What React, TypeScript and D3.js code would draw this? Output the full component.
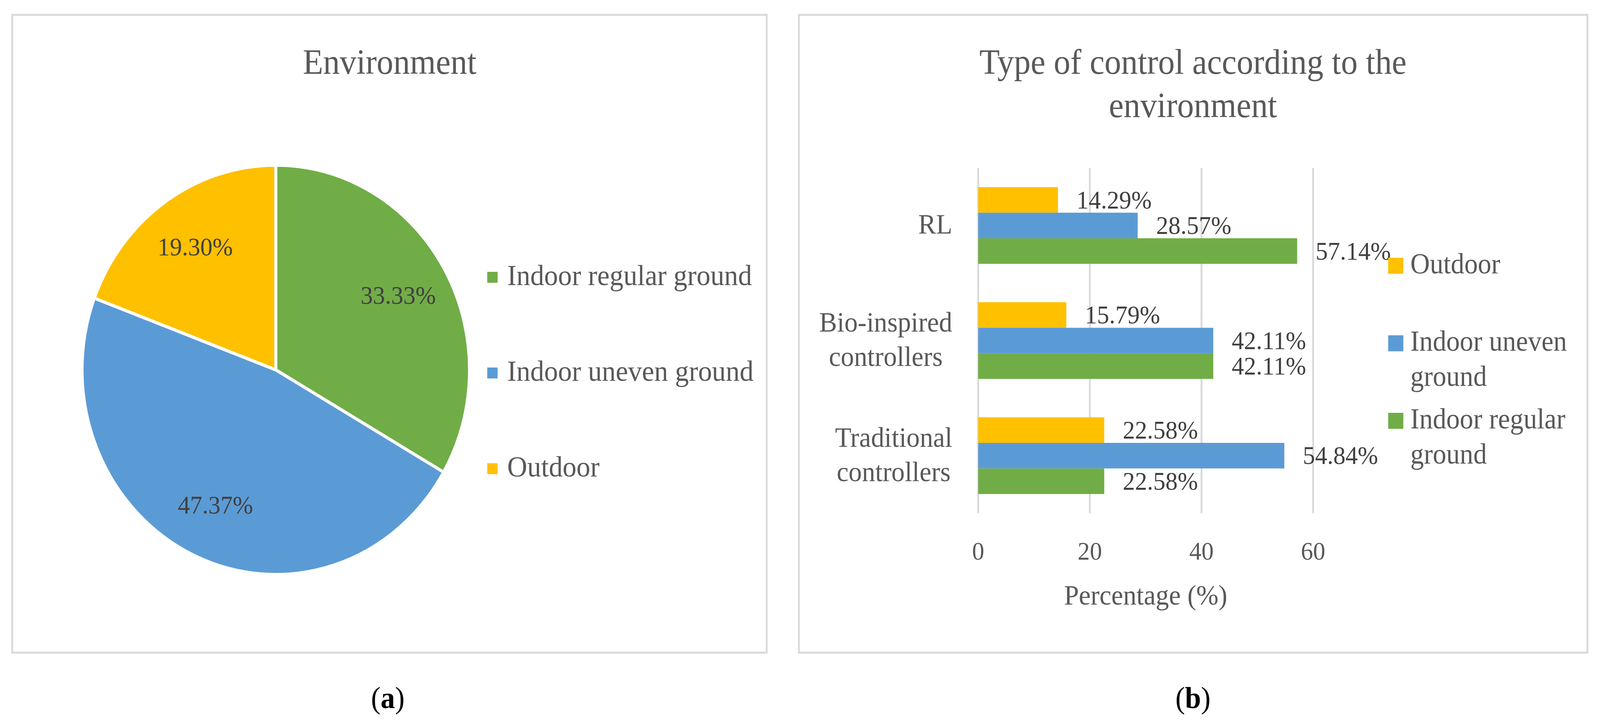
import { useEffect, useRef } from 'react';
import * as d3 from 'd3';

// pie (a)
const envLabels = ['Indoor regular ground', 'Indoor uneven ground', 'Outdoor'];
const envValues = [33.33, 47.37, 19.3];
const envColors = ['#70AD47', '#5B9BD5', '#FFC000'];

// bars (b), top to bottom
const controlTypes = ['RL', 'Bio-inspired controllers', 'Traditional controllers'];
const controlLines = [['RL'], ['Bio-inspired', 'controllers'], ['Traditional', 'controllers']];
const seriesNames = ['Outdoor', 'Indoor uneven ground', 'Indoor regular ground'];
const seriesLines = [['Outdoor'], ['Indoor uneven', 'ground'], ['Indoor regular', 'ground']];
const seriesColors = ['#FFC000', '#5B9BD5', '#70AD47'];
const outdoorValues = [14.29, 15.79, 22.58];
const unevenValues = [28.57, 42.11, 54.84];
const regularValues = [57.14, 42.11, 22.58];
const xTicks = [0, 20, 40, 60];

const W = 4328;
const H = 1864;
const FONT = '"Liberation Serif", "Times New Roman", serif';
const GREY = '#595959';
const DARK = '#404040';
const BORDER = '#d9d9d9';

export default function App() {
  const svgRef = useRef<SVGSVGElement>(null);

  useEffect(() => {
    const svg = d3.select(svgRef.current);
    svg.selectAll('*').remove();
    svg.append('rect').attr('width', W).attr('height', H).attr('fill', '#fff');

    // ---------- panel a ----------
    const a = svg.append('g');
    a.append('rect')
      .attr('x', 33).attr('y', 38).attr('width', 2041).attr('height', 1633)
      .attr('fill', 'none').attr('stroke', BORDER).attr('stroke-width', 5);
    a.append('text')
      .attr('x', 1054).attr('y', 189).attr('text-anchor', 'middle')
      .attr('font-family', FONT).attr('font-size', 90).attr('fill', GREY)
      .text('Environment');

    const cx = 746;
    const cy = 947;
    const r = 524;
    const pie = d3.pie<number>().sort(null).value((d) => d);
    const arcs = pie(envValues);
    const arcGen = d3.arc<d3.PieArcDatum<number>>().innerRadius(0).outerRadius(r);
    const labelArc = d3.arc<d3.PieArcDatum<number>>()
      .innerRadius(r * 0.73).outerRadius(r * 0.73);
    const pg = a.append('g').attr('transform', `translate(${cx},${cy})`);
    pg.selectAll('path')
      .data(arcs)
      .join('path')
      .attr('d', (d) => arcGen(d) ?? '')
      .attr('fill', (_, i) => envColors[i])
      .attr('stroke', '#fff')
      .attr('stroke-width', 8)
      .attr('stroke-linejoin', 'round');
    pg.selectAll('text')
      .data(arcs)
      .join('text')
      .attr('transform', (d) => `translate(${labelArc.centroid(d)})`)
      .attr('text-anchor', 'middle')
      .attr('dy', '0.33em')
      .attr('font-family', FONT).attr('font-size', 66).attr('fill', DARK)
      .text((d) => `${d.data.toFixed(2)}%`);

    const lg = a.append('g');
    envLabels.forEach((label, i) => {
      const y = 710 + i * 245;
      lg.append('rect')
        .attr('x', 1318).attr('y', y - 14).attr('width', 28).attr('height', 28)
        .attr('fill', envColors[i]);
      lg.append('text')
        .attr('x', 1372).attr('y', y + 20)
        .attr('font-family', FONT).attr('font-size', 75).attr('fill', GREY)
        .text(label);
    });

    // ---------- panel b ----------
    const b = svg.append('g');
    b.append('rect')
      .attr('x', 2161).attr('y', 38).attr('width', 2133).attr('height', 1633)
      .attr('fill', 'none').attr('stroke', BORDER).attr('stroke-width', 5);
    const title = b.append('text')
      .attr('text-anchor', 'middle')
      .attr('font-family', FONT).attr('font-size', 90).attr('fill', GREY);
    ['Type of control according to the', 'environment'].forEach((t, i) => {
      title.append('tspan').attr('x', 3227).attr('y', 189 + i * 111).text(t);
    });

    const x = d3.scaleLinear().domain([0, 60]).range([2646, 3552]);
    const y = d3.scaleBand<string>()
      .domain(controlTypes)
      .range([430, 1314])
      .paddingInner(1 / 3)
      .paddingOuter(1 / 6);
    const ySub = d3.scaleBand<string>()
      .domain(seriesNames)
      .range([0, y.bandwidth()]);

    b.append('g')
      .selectAll('line')
      .data(xTicks)
      .join('line')
      .attr('x1', (d) => x(d)).attr('x2', (d) => x(d))
      .attr('y1', 430).attr('y2', 1314)
      .attr('stroke', BORDER).attr('stroke-width', 5);

    b.append('g')
      .selectAll('text')
      .data(xTicks)
      .join('text')
      .attr('x', (d) => x(d)).attr('y', 1433)
      .attr('text-anchor', 'middle')
      .attr('font-family', FONT).attr('font-size', 66).attr('fill', GREY)
      .text((d) => d);

    b.append('text')
      .attr('x', (x(0) + x(60)) / 2).attr('y', 1548)
      .attr('text-anchor', 'middle')
      .attr('font-family', FONT).attr('font-size', 72).attr('fill', GREY)
      .text('Percentage (%)');

    const seriesValues = [outdoorValues, unevenValues, regularValues];
    const cells = controlTypes.flatMap((c, ci) =>
      seriesNames.map((s, si) => ({ c, s, si, v: seriesValues[si][ci] })),
    );
    const bars = b.append('g');
    bars.selectAll('rect')
      .data(cells)
      .join('rect')
      .attr('x', x(0))
      .attr('y', (d) => (y(d.c) ?? 0) + (ySub(d.s) ?? 0))
      .attr('width', (d) => x(d.v) - x(0))
      .attr('height', ySub.bandwidth())
      .attr('fill', (d) => seriesColors[d.si]);
    bars.selectAll('text')
      .data(cells)
      .join('text')
      .attr('x', (d) => x(d.v) + 50)
      .attr('y', (d) => (y(d.c) ?? 0) + (ySub(d.s) ?? 0) + ySub.bandwidth() / 2)
      .attr('dy', '0.33em')
      .attr('font-family', FONT).attr('font-size', 66).attr('fill', DARK)
      .text((d) => `${d.v.toFixed(2)}%`);

    // category labels: block right-aligned, lines centred inside block
    const catRight = 2576;
    controlTypes.forEach((c, ci) => {
      const lines = controlLines[ci];
      const centre = (y(c) ?? 0) + y.bandwidth() / 2;
      const t = b.append('text')
        .attr('font-family', FONT).attr('font-size', 72).attr('fill', GREY)
        .attr('text-anchor', 'middle');
      const spans = lines.map((line, li) =>
        t.append('tspan')
          .attr('y', centre + 21 + (li - (lines.length - 1) / 2) * 88)
          .text(line),
      );
      const widths = spans.map((s) => (s.node() as SVGTSpanElement).getComputedTextLength());
      const maxW = Math.max(...widths);
      spans.forEach((s) => s.attr('x', catRight - maxW / 2));
    });

    const rl = b.append('g');
    seriesNames.forEach((_, i) => {
      const yc = 680 + i * 198.5;
      rl.append('rect')
        .attr('x', 3755).attr('y', yc - 20).attr('width', 41).attr('height', 41)
        .attr('fill', seriesColors[i]);
      const t = rl.append('text')
        .attr('font-family', FONT).attr('font-size', 73).attr('fill', GREY);
      seriesLines[i].forEach((line, li) => {
        t.append('tspan').attr('x', 3815).attr('y', yc + 20 + li * 90).text(line);
      });
    });

    // captions
    [['a', 1049], ['b', 3227]].forEach(([letter, cxp]) => {
      const t = svg.append('text')
        .attr('x', cxp as number).attr('y', 1813)
        .attr('text-anchor', 'middle')
        .attr('font-family', FONT).attr('font-size', 78).attr('fill', '#000');
      t.append('tspan').text('(');
      t.append('tspan').attr('font-weight', 'bold').text(letter as string);
      t.append('tspan').text(')');
    });
  }, []);

  return (
    <svg
      ref={svgRef}
      viewBox={`0 0 ${W} ${H}`}
      preserveAspectRatio='none'
      style={{
        position: 'fixed',
        left: 0,
        top: 0,
        width: '100vw',
        height: '100vh',
        display: 'block',
      }}
    />
  );
}
